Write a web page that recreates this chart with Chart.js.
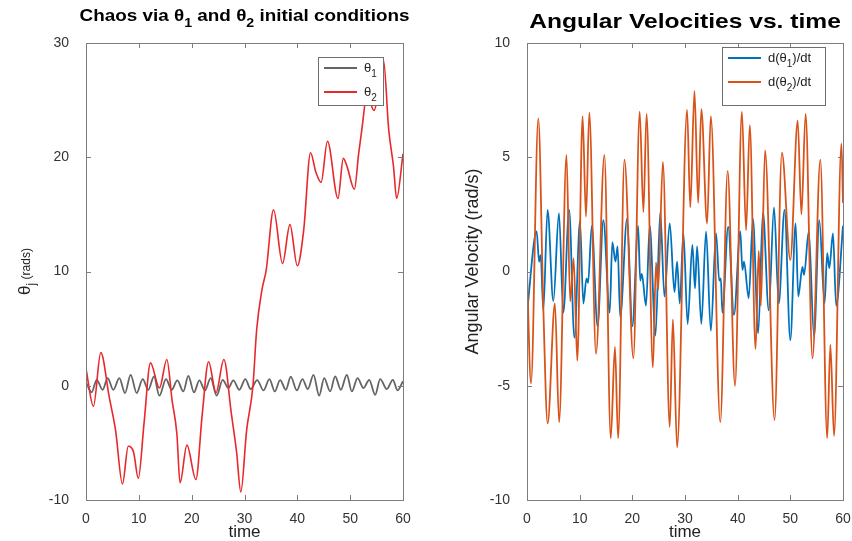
<!DOCTYPE html>
<html>
<head>
<meta charset="utf-8">
<script src="https://cdn.jsdelivr.net/npm/chart.js@4.4.0/dist/chart.umd.min.js"></script>
<style>
  html, body { margin: 0; padding: 0; background: #fff; overflow: hidden; width: 852px; height: 541px; }
  #left { position: absolute; left: 0; top: 0; }
  #right { position: absolute; left: 426px; top: 0; }
</style>
</head>
<body>
<canvas id="left" width="426" height="541"></canvas>
<canvas id="right" width="440" height="541"></canvas>
<script>
// valores: [tempo, valor]
const theta1Pts = [
  [0, 0.3], [1.07, -0.58], [2.02, 0.52], [3.15, -0.35], [4.10, 0.67], [5.17, -0.35],
  [6.31, 0.67], [7.38, -0.64], [8.45, 0.96], [9.59, -0.64], [10.73, 0.58], [11.80, -0.35],
  [12.87, 0.82], [13.88, -0.87], [15.14, 0.58], [16.21, -0.35], [17.29, 0.47], [18.42, -0.50],
  [19.37, 0.87], [20.44, -0.58], [21.45, 0.47], [22.52, -0.41], [23.60, 0.67], [24.73, -0.87],
  [25.87, 0.52], [26.94, -0.20], [27.89, 0.47], [29.02, -0.35], [30.16, 0.58], [31.17, -0.29],
  [32.4, 0.5], [33.6, -0.41], [34.72, 0.58], [35.73, -0.5], [36.74, 0.5], [37.82, -0.35],
  [38.76, 0.8], [39.9, -0.41], [40.97, 0.58], [41.98, -0.29], [43.06, 0.96], [44.13, -0.87],
  [45.08, 0.67], [46.21, -0.5], [47.16, 0.82], [48.23, -0.35], [49.37, 0.96], [50.32, -0.5],
  [51.39, 0.67], [52.53, -0.2], [53.6, 0.52], [54.73, -0.79], [55.68, 0.58], [56.94, -0.29],
  [58.08, 0.52], [58.96, -0.41], [60, 0.4]
];

const theta2Pts = [
  [0, 1.5], [1.4, -1.8], [2.8, 2.9], [4.4, -1.0], [5.6, -3.9], [6.9, -8.6], [8.0, -5.3],
  [9.0, -5.8], [9.9, -8.1], [11.0, -3.2], [12.2, 2.0], [13.9, -0.2], [15.3, 2.3], [16.3, -1.3],
  [17.2, -4.2], [17.8, -8.5], [19.1, -5.2], [20.8, -8.2], [22.0, -2.5], [23.2, 2.1], [24.6, -0.6],
  [26.1, 2.3], [27.5, -2.4], [28.5, -5.8], [29.3, -9.3], [30.4, -3.9], [31.6, 0], [32.3, 4.9],
  [33.3, 8.4], [34.1, 10.1], [35.5, 15.4], [37.2, 10.7], [38.6, 14.1], [40.0, 10.5], [41.2, 13.6],
  [42.5, 20.4], [43.5, 18.7], [44.5, 17.8], [45.7, 21.4], [47.7, 16.4], [48.7, 19.9], [49.4, 19.2],
  [50.8, 17.2], [51.6, 20.3], [52.2, 22.4], [53.2, 25.5], [54.5, 24.1], [56.3, 28.5], [57.3, 22.4],
  [58.2, 19.2], [58.8, 16.4], [60, 20.3]
];

const dTheta1Pts = [
  [0, -1.8], [1.83, 1.75], [2.3, 0.43], [2.6, 0.72], [3.1, -1.7], [3.9, 2.7], [5.0, -1.3],
  [6.07, 2.55], [6.9, -1.8], [8.0, 2.7], [9.0, -2.9], [10.06, 2.2], [10.7, -1.4], [11.3, -0.3],
  [11.6, -0.5], [12.3, 2.0], [13.4, -2.4], [14.5, 2.25], [15.7, -1.8], [16.2, 1.28], [16.8, 0.43],
  [17.2, 1.1], [17.7, -2.0], [19.0, 2.3], [20.0, -2.4], [21.1, 2.0], [21.5, -0.4], [21.8, -0.1],
  [22.6, -1.5], [23.3, 2.0], [24.4, -2.8], [25.3, 2.6], [26.1, -1.1], [27.1, 2.1], [28.0, -0.9],
  [28.5, 0.43], [29.0, -1.4], [29.7, 1.67], [30.5, -2.3], [31.4, 1.16], [31.9, -0.74], [32.3, 1.1],
  [33.1, -2.3], [34.0, 1.75], [34.9, -2.6], [35.9, 1.67], [36.5, -0.4], [36.8, -0.3], [37.1, -1.8],
  [38.2, 1.96], [39.3, -1.9], [40.5, 1.75], [40.9, 0.07], [41.2, 0.43], [42.1, -1.17], [42.9, 2.3],
  [43.9, -2.7], [44.8, 2.6], [45.9, -1.7], [46.9, 2.8], [47.8, -1.4], [48.9, 2.7], [50.0, -3.0],
  [51.0, 2.1], [51.5, -1.1], [52.3, 0.2], [52.6, -0.15], [53.5, 1.75], [54.5, -2.85], [55.5, 2.25],
  [56.5, -1.4], [57.0, 0.8], [57.4, 0.15], [58.1, 1.67], [58.7, -1.5], [60, 2.0]
];

const dTheta2Pts = [
  [0, 0], [0.76, -4.9], [2.15, 6.7], [3.1, -1.6], [3.92, -6.65], [5.3, -1.4], [6.1, -6.6],
  [7.5, 5.1], [8.2, -1.3], [8.85, 0.57], [9.55, -3.9], [10.56, 6.8], [11.2, 2.4], [11.83, 6.95],
  [13.1, -3.6], [14.7, 5.1], [15.9, -7.3], [16.7, -3.3], [17.3, -7.3], [18.5, 4.9], [20.2, -3.8],
  [21.4, 7.0], [22.1, 2.6], [22.7, 6.9], [23.9, -4.2], [24.5, 0.4], [24.9, -0.8], [25.8, 4.8],
  [27.1, -6.8], [27.7, -2.1], [28.5, -7.7], [30.4, 7.07], [31.0, 2.8], [31.8, 7.9], [32.5, 3.0],
  [33.1, 7.1], [34.2, 2.1], [34.9, 6.8], [36.7, -6.6], [38.1, 4.4], [39.5, -5.0], [40.8, 7.0],
  [41.6, 1.8], [42.3, 6.4], [43.4, -3.4], [44.0, 0.9], [44.4, -1.5], [45.2, 5.3], [47.0, -6.5],
  [48.4, 5.2], [50.0, 0.5], [51.4, 6.6], [52.1, 2.5], [52.9, 6.9], [54.2, -3.8], [55.7, 4.9],
  [57.0, -7.3], [57.6, -3.2], [58.3, -7.2], [59.7, 5.6], [60, 3.0]
];

const xTicks = [0, 10, 20, 30, 40, 50, 60];
const leftYTicks = [-10, 0, 10, 20, 30];
const rightYTicks = [-10, -5, 0, 5, 10];

const FONT = 'Helvetica, "Liberation Sans", Arial, sans-serif';
const toPts = arr => arr.map(p => ({ x: p[0], y: p[1] }));

// texto com subscritos: partes [texto, tamanho, peso, deslocamento]; hs = esticar na horizontal
function drawRich(ctx, parts, x, y, align, hs) {
  hs = hs || 1;
  let w = 0;
  parts.forEach(p => {
    ctx.font = (p[2] || 'normal') + ' ' + p[1] + 'px ' + FONT;
    w += ctx.measureText(p[0]).width;
  });
  ctx.save();
  ctx.translate(x, y);
  ctx.scale(hs, 1);
  let cx = align === 'center' ? -w / 2 : 0;
  parts.forEach(p => {
    ctx.font = (p[2] || 'normal') + ' ' + p[1] + 'px ' + FONT;
    ctx.fillText(p[0], cx, p[3] || 0);
    cx += ctx.measureText(p[0]).width;
  });
  ctx.restore();
}

const decor = {
  id: 'decor',
  afterDraw(chart, args, opts) {
    const ctx = chart.ctx;
    const a = chart.chartArea;
    const xs = chart.scales.x, ys = chart.scales.y;
    ctx.save();
    ctx.strokeStyle = '#7d7d7d';
    ctx.lineWidth = 1;
    ctx.strokeRect(Math.round(a.left) + 0.5, Math.round(a.top) + 0.5,
      Math.round(a.right - a.left), Math.round(a.bottom - a.top));
    ctx.beginPath();
    xTicks.forEach(v => {
      const px = Math.round(xs.getPixelForValue(v)) + 0.5;
      ctx.moveTo(px, a.bottom); ctx.lineTo(px, a.bottom - 5);
      ctx.moveTo(px, a.top); ctx.lineTo(px, a.top + 5);
    });
    opts.yTicks.forEach(v => {
      const py = Math.round(ys.getPixelForValue(v)) + 0.5;
      ctx.moveTo(a.left, py); ctx.lineTo(a.left + 5, py);
      ctx.moveTo(a.right, py); ctx.lineTo(a.right - 5, py);
    });
    ctx.stroke();

    // legenda
    const L = opts.legend;
    ctx.fillStyle = '#fff';
    ctx.fillRect(L.x, L.y, L.w, L.h);
    ctx.strokeStyle = '#6f6f6f';
    ctx.strokeRect(L.x + 0.5, L.y + 0.5, L.w, L.h);
    L.items.forEach((it, i) => {
      const ly = L.y + 11 + i * 24;
      ctx.strokeStyle = it.color;
      ctx.lineWidth = 2;
      ctx.beginPath();
      ctx.moveTo(L.x + 6, ly); ctx.lineTo(L.x + 39, ly);
      ctx.stroke();
      ctx.fillStyle = '#222';
      ctx.textBaseline = 'alphabetic';
      drawRich(ctx, it.parts, L.x + 46, ly + 4, 'left');
    });

    // título
    ctx.fillStyle = '#000';
    drawRich(ctx, opts.title, (a.left + a.right) / 2, opts.titleY, 'center', opts.titleScale);

    // eixo x
    ctx.fillStyle = '#222';
    drawRich(ctx, [['time', 17]], (a.left + a.right) / 2, 537, 'center');

    // eixo y
    ctx.translate(opts.yLabelX, (a.top + a.bottom) / 2 + opts.yLabelDy);
    ctx.rotate(-Math.PI / 2);
    drawRich(ctx, opts.yLabel, 0, 0, 'center');
    ctx.restore();
  }
};

function baseOptions(yMin, yMax, step, yWidth, decorOpts) {
  return {
    responsive: false,
    animation: false,
    events: [],
    layout: { padding: { left: 0, top: 43, right: 23, bottom: 0 } },
    elements: { point: { radius: 0 }, line: { cubicInterpolationMode: 'monotone', tension: 0.4 } },
    scales: {
      x: {
        type: 'linear', min: 0, max: 60,
        grid: { display: false },
        border: { display: false },
        ticks: { stepSize: 10, padding: 3, color: '#333', font: { family: FONT, size: 14 }, maxRotation: 0 },
        afterFit: s => { s.height = 41; }
      },
      y: {
        min: yMin, max: yMax,
        grid: { display: false },
        border: { display: false },
        ticks: { stepSize: step, padding: 9, color: '#333', font: { family: FONT, size: 14 } },
        afterFit: s => { s.width = yWidth; }
      }
    },
    plugins: { legend: { display: false }, title: { display: false }, tooltip: { enabled: false }, decor: decorOpts }
  };
}

new Chart(document.getElementById('left'), {
  type: 'line',
  data: {
    datasets: [
      { label: 'θ1', data: toPts(theta1Pts), borderColor: '#646464', borderWidth: 1.8, order: 1 },
      { label: 'θ2', data: toPts(theta2Pts), borderColor: '#e8282b', borderWidth: 1.6, order: 0 }
    ]
  },
  options: baseOptions(-10, 30, 10, 86, {
    yTicks: leftYTicks,
    titleY: 21, titleScale: 1.18,
    title: [['Chaos via θ', 16, 'bold'], ['1', 12, 'bold', 6], [' and θ', 16, 'bold'], ['2', 12, 'bold', 6], [' initial conditions', 16, 'bold']],
    yLabelX: 30, yLabelDy: 0,
    yLabel: [['θ', 17], ['j', 12, 'normal', 5], [' (rads)', 12]],
    legend: {
      x: 318, y: 57, w: 65, h: 48,
      items: [
        { color: '#646464', parts: [['θ', 13], ['1', 10, 'normal', 5]] },
        { color: '#e8282b', parts: [['θ', 13], ['2', 10, 'normal', 5]] }
      ]
    }
  }),
  plugins: [decor]
});

new Chart(document.getElementById('right'), {
  type: 'line',
  data: {
    datasets: [
      { label: 'd(θ1)/dt', data: toPts(dTheta1Pts), borderColor: '#0072BD', borderWidth: 1.8, order: 1 },
      { label: 'd(θ2)/dt', data: toPts(dTheta2Pts), borderColor: '#D95319', borderWidth: 1.8, order: 0 }
    ]
  },
  options: baseOptions(-10, 10, 5, 101, {
    yTicks: rightYTicks,
    titleY: 28, titleScale: 1.2,
    title: [['Angular Velocities vs. time', 20.5, 'bold']],
    yLabelX: 52, yLabelDy: -10,
    yLabel: [['Angular Velocity (rad/s)', 18]],
    legend: {
      x: 296, y: 47, w: 103, h: 58,
      items: [
        { color: '#0072BD', parts: [['d(θ', 13], ['1', 10, 'normal', 5], [')/dt', 13]] },
        { color: '#D95319', parts: [['d(θ', 13], ['2', 10, 'normal', 5], [')/dt', 13]] }
      ]
    }
  }),
  plugins: [decor]
});
</script>
</body>
</html>
